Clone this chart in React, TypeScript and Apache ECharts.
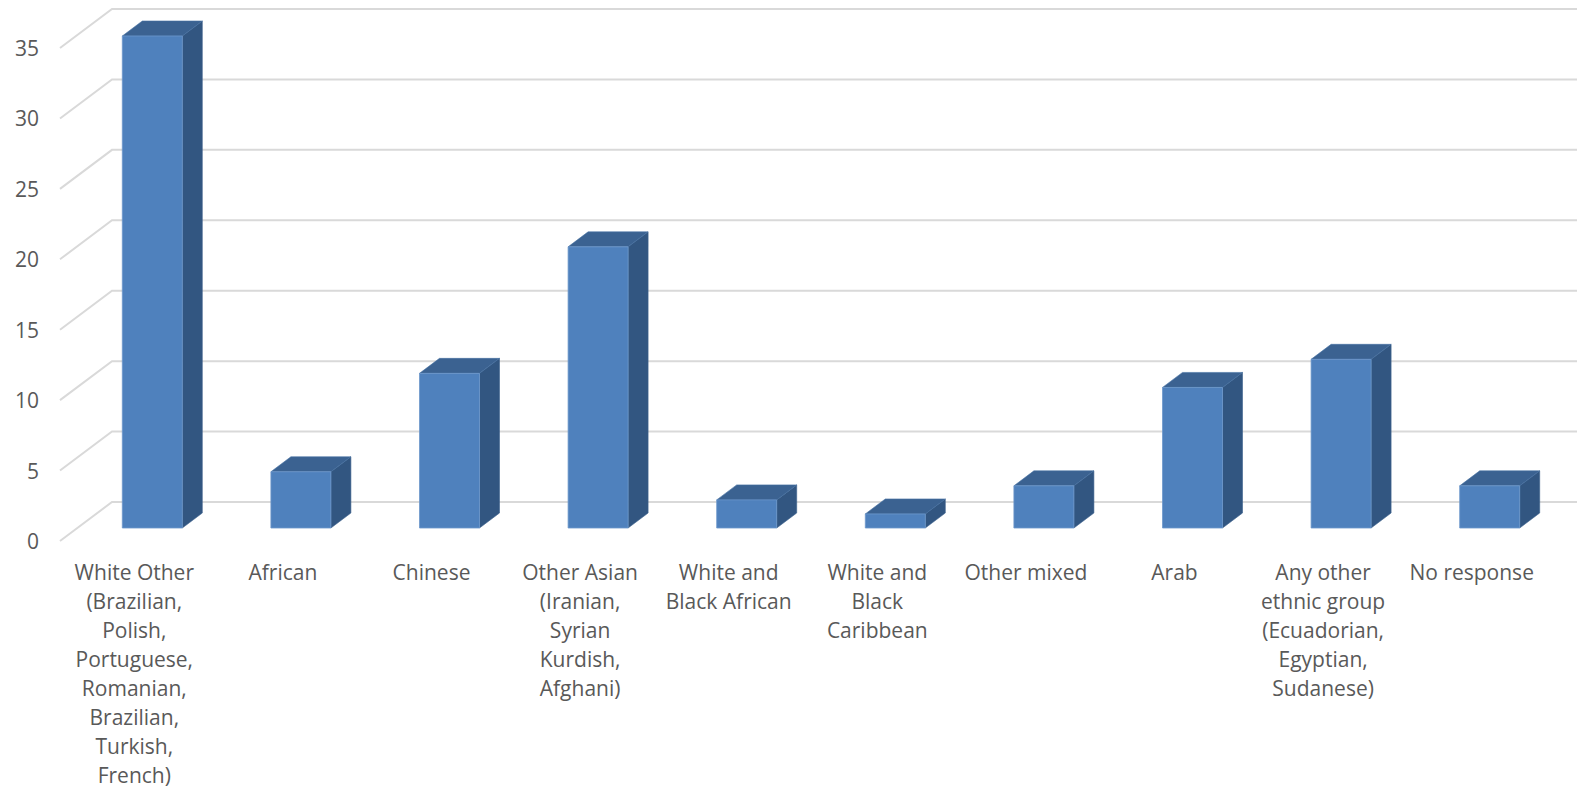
import React, { useEffect, useRef } from "react";
import * as echarts from "echarts";

const categories = [
  "White Other\n(Brazilian,\nPolish,\nPortuguese,\nRomanian,\nBrazilian,\nTurkish,\nFrench)",
  "African",
  "Chinese",
  "Other Asian\n(Iranian,\nSyrian\nKurdish,\nAfghani)",
  "White and\nBlack African",
  "White and\nBlack\nCaribbean",
  "Other mixed",
  "Arab",
  "Any other\nethnic group\n(Ecuadorian,\nEgyptian,\nSudanese)",
  "No response",
];
const values = [35, 4, 11, 20, 2, 1, 3, 10, 12, 3];
const ticks = [0, 5, 10, 15, 20, 25, 30, 35];

const FONT = "'Open Sans', sans-serif";
const TEXT = "#595959";
const GRID = "#D9D9D9";

export default function App() {
  const ref = useRef<HTMLDivElement>(null);
  useEffect(() => {
    if (!ref.current) return;
    const chart = echarts.init(ref.current, undefined, { renderer: "svg" });
    const barData = values.map((v, i) => [i, v]);
    const tickData = ticks.map((t) => [0, t]);
    chart.setOption({
      animation: false,
      backgroundColor: "#fff",
      grid: [
        { left: 60, top: 48, width: 1486, height: 493, outerBoundsMode: "none", containLabel: false },
        { left: 78, top: 36, width: 1486, height: 492, outerBoundsMode: "none", containLabel: false },
      ],
      xAxis: [
        {
          type: "category",
          gridIndex: 0,
          data: categories,
          boundaryGap: true,
          axisLine: { show: false },
          axisTick: { show: false },
          axisLabel: {
            interval: 0,
            margin: 16,
            color: TEXT,
            fontFamily: FONT,
            fontSize: 21,
            lineHeight: 29,
            align: "center",
          },
        },
        {
          type: "category",
          gridIndex: 1,
          data: categories,
          boundaryGap: true,
          show: false,
        },
      ],
      yAxis: [
        {
          type: "value",
          gridIndex: 0,
          min: 0,
          max: 35,
          interval: 5,
          axisLine: { show: false },
          axisTick: { show: false },
          splitLine: { show: false },
          axisLabel: { margin: 21, color: TEXT, fontFamily: FONT, fontSize: 21 },
        },
        {
          type: "value",
          gridIndex: 1,
          min: 0,
          max: 35,
          interval: 5,
          show: false,
          splitLine: { show: false },
        },
      ],
      series: [
        {
          type: "custom",
          xAxisIndex: 0,
          yAxisIndex: 0,
          z: 1,
          encode: { x: 0, y: 1 },
          data: tickData,
          renderItem: (params: any, api: any) => {
            const cs = params.coordSys;
            const y = api.coord([0, api.value(1)])[1];
            return {
              type: "polyline",
              shape: {
                points: [
                  [cs.x, y],
                  [cs.x + 52, y - 39],
                  [cs.x + 52 + cs.width + 60, y - 39],
                ],
              },
              style: { stroke: GRID, lineWidth: 2, fill: null },
            };
          },
        },
        {
          type: "custom",
          xAxisIndex: 1,
          yAxisIndex: 1,
          z: 5,
          encode: { x: 0, y: 1 },
          data: barData,
          renderItem: (params: any, api: any) => {
            const idx = api.value(0);
            const v = api.value(1);
            const p0 = api.coord([idx, 0]);
            const p1 = api.coord([idx, v]);
            const hw = 30;
            const dx = 20;
            const dy = -15;
            const xl = p0[0] - hw;
            const xr = p0[0] + hw;
            const y0 = p0[1];
            const y1 = p1[1];
            return {
              type: "group",
              children: [
                {
                  type: "polygon",
                  shape: {
                    points: [
                      [xr, y1],
                      [xr + dx, y1 + dy],
                      [xr + dx, y0 + dy],
                      [xr, y0],
                    ],
                  },
                  style: { fill: "#325681", stroke: "#3a5f8c", lineWidth: 0.6 },
                },
                {
                  type: "polygon",
                  shape: {
                    points: [
                      [xl, y1],
                      [xl + dx, y1 + dy],
                      [xr + dx, y1 + dy],
                      [xr, y1],
                    ],
                  },
                  style: { fill: "#3B6291", stroke: "#4570a3", lineWidth: 0.6 },
                },
                {
                  type: "rect",
                  shape: { x: xl, y: y1, width: xr - xl, height: y0 - y1 },
                  style: { fill: "#4F81BD", stroke: "#6d98cc", lineWidth: 0.8 },
                },
              ],
            };
          },
        },
      ],
    });
    return () => chart.dispose();
  }, []);
  return (
    <div
      ref={ref}
      style={{ position: "absolute", left: 0, top: 0, width: 1577, height: 792 }}
    />
  );
}
